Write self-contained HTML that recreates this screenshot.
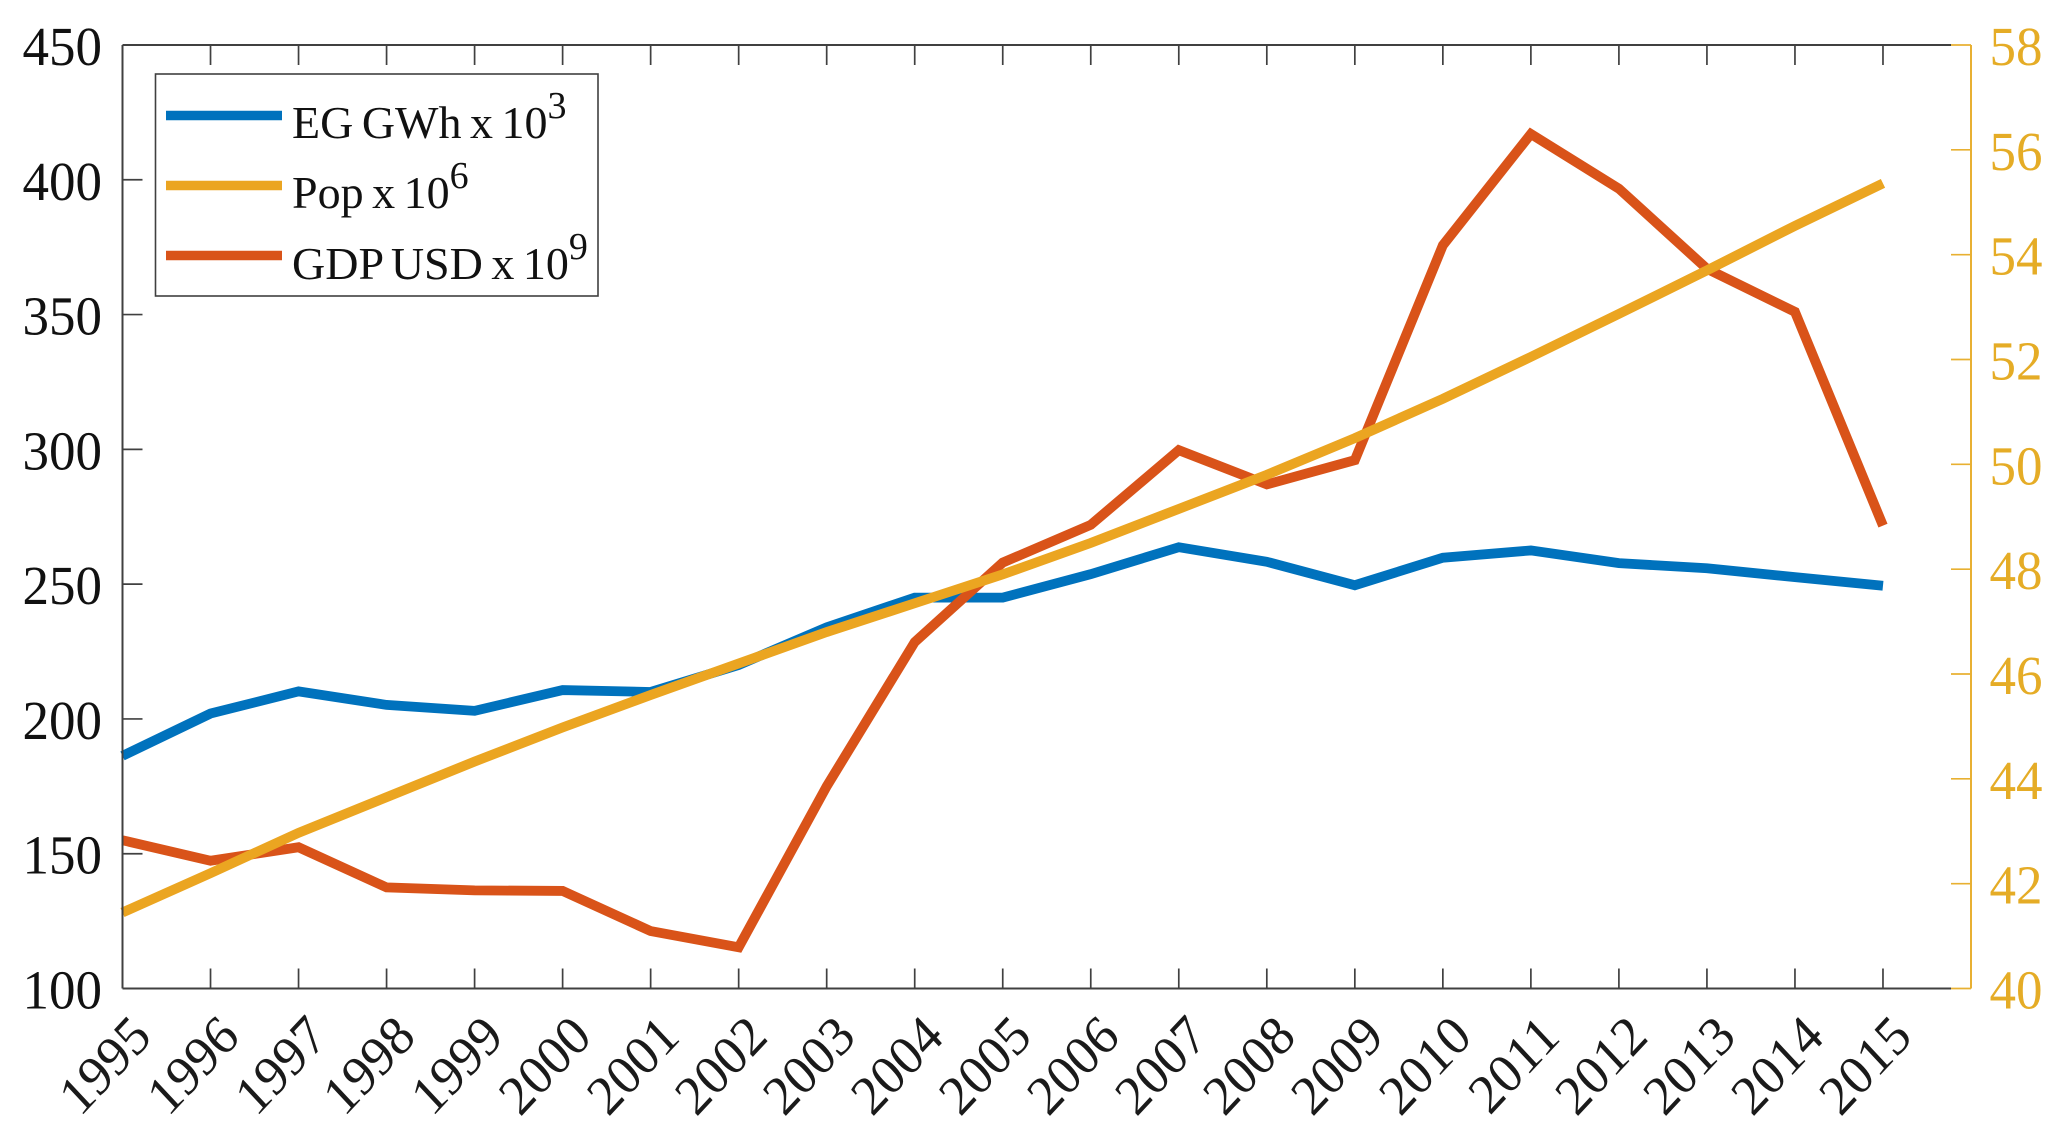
<!DOCTYPE html>
<html>
<head>
<meta charset="utf-8">
<style>
html,body{margin:0;padding:0;background:#fff;width:2067px;height:1140px;overflow:hidden}
svg{display:block;font-family:"Liberation Serif",serif}
</style>
</head>
<body>
<svg id="chart" xmlns="http://www.w3.org/2000/svg" width="2067" height="1140" viewBox="0 0 2067 1140">
<g id="marks"></g>
<g id="axes"></g>
<g>
<rect x="155.5" y="74" width="442.5" height="222" fill="#fff" stroke="#404040" stroke-width="1.6"/>
<line x1="166" x2="282" y1="115.5" y2="115.5" stroke="#0072BD" stroke-width="9.6"/>
<text x="292" y="138" font-size="46" word-spacing="-3" fill="#111">EG GWh x 10<tspan font-size="38" dy="-20">3</tspan></text>
<line x1="166" x2="282" y1="185.5" y2="185.5" stroke="#EBA521" stroke-width="9.6"/>
<text x="292" y="208" font-size="46" word-spacing="-3" fill="#111">Pop x 10<tspan font-size="38" dy="-20">6</tspan></text>
<line x1="166" x2="282" y1="255.5" y2="255.5" stroke="#D95319" stroke-width="9.6"/>
<text x="292" y="279" font-size="46" word-spacing="-3" fill="#111">GDP USD x 10<tspan font-size="38" dy="-20">9</tspan></text>
</g>
</svg>
<script>
const years = [1995,1996,1997,1998,1999,2000,2001,2002,2003,2004,2005,2006,2007,2008,2009,2010,2011,2012,2013,2014,2015];
const egValues = [186.3,202,210.2,205.2,203,210.7,210,220,234,245,245,253.7,263.7,258.3,249.6,259.8,262.5,257.8,255.9,252.6,249.4];
const popValues = [41.45,42.2,42.97,43.65,44.33,44.98,45.6,46.2,46.8,47.35,47.9,48.5,49.15,49.8,50.5,51.25,52.05,52.87,53.7,54.55,55.36];
const gdpValues = [155,147.4,152.4,137.5,136.4,136.2,121.3,115.3,175,228.5,258,272,299.7,287,296,375.7,417,396.7,367,351,271.7];
const leftTicks = [100,150,200,250,300,350,400,450];
const rightTicks = [40,42,44,46,48,50,52,54,56,58];

const NS = 'http://www.w3.org/2000/svg';
const plotLeft = 122.5, plotRight = 1971, plotTop = 45, plotBottom = 988.5;
const xMin = 1995, xMax = 2016;
const leftMin = 100, leftMax = 450, rightMin = 40, rightMax = 58;
const axisBlack = '#404040', axisYellow = '#E8B032';

function xScale(v){ return plotLeft + (v - xMin) / (xMax - xMin) * (plotRight - plotLeft); }
function yLeft(v){ return plotBottom - (v - leftMin) / (leftMax - leftMin) * (plotBottom - plotTop); }
function yRight(v){ return plotBottom - (v - rightMin) / (rightMax - rightMin) * (plotBottom - plotTop); }

function make(tag, attrs, parent){
  const el = document.createElementNS(NS, tag);
  for (const k in attrs) el.setAttribute(k, attrs[k]);
  parent.appendChild(el);
  return el;
}

const axes = document.getElementById('axes');
const marks = document.getElementById('marks');

function drawSeries(values, yFn, color, name){
  const d = values.map((v, i) => (i ? 'L' : 'M') + xScale(years[i]).toFixed(2) + ' ' + yFn(v).toFixed(2)).join(' ');
  const p = make('path', {d: d, fill: 'none', stroke: color, 'stroke-width': 9.8, 'stroke-linejoin': 'miter'}, marks);
  
  
}
drawSeries(egValues, yLeft, '#0072BD', 'eg-gwh-line');
drawSeries(gdpValues, yLeft, '#D95319', 'gdp-usd-line');
drawSeries(popValues, yRight, '#EBA521', 'population-line');

const spineLeft = make('line', {x1: plotLeft, x2: plotLeft, y1: plotTop, y2: plotBottom, stroke: axisBlack, 'stroke-width': 2}, axes);


const spineTop = make('line', {x1: plotLeft, x2: plotRight - 20, y1: plotTop, y2: plotTop, stroke: axisBlack, 'stroke-width': 2}, axes);


const spineBottom = make('line', {x1: plotLeft, x2: plotRight - 20, y1: plotBottom, y2: plotBottom, stroke: axisBlack, 'stroke-width': 2}, axes);


const spineRight = make('line', {x1: plotRight, x2: plotRight, y1: plotTop, y2: plotBottom, stroke: axisYellow, 'stroke-width': 2}, axes);



years.forEach(function(yr){
  const x = xScale(yr);
  if (yr !== xMin) {
    const t1 = make('line', {x1: x, x2: x, y1: plotBottom, y2: plotBottom - 20, stroke: axisBlack, 'stroke-width': 1.7}, axes);
    
    
    const t2 = make('line', {x1: x, x2: x, y1: plotTop, y2: plotTop + 20, stroke: axisBlack, 'stroke-width': 1.7}, axes);
    
    
  }
  const lx = x + 31, ly = 1039;
  const label = make('text', {x: 0, y: 0, 'font-size': 53, fill: '#1a1a1a', 'text-anchor': 'end', transform: 'translate(' + lx + ' ' + ly + ') scale(0.98 1.05) rotate(-45)'}, axes);
  label.textContent = yr;
  
  
});

leftTicks.forEach(function(v){
  const y = yLeft(v);
  const t = make('line', {x1: plotLeft, x2: plotLeft + 20, y1: y, y2: y, stroke: axisBlack, 'stroke-width': 1.7}, axes);
  
  
  const label = make('text', {x: 0, y: 0, 'font-size': 53, fill: '#111', 'text-anchor': 'end', transform: 'translate(102 ' + (y + 20) + ') scale(1 1.04)'}, axes);
  label.textContent = v;
  
  
});

rightTicks.forEach(function(v){
  const y = yRight(v);
  const t = make('line', {x1: plotRight - 20, x2: plotRight, y1: y, y2: y, stroke: axisYellow, 'stroke-width': 1.7}, axes);
  
  
  const label = make('text', {x: 0, y: 0, 'font-size': 53, fill: '#E5AC26', transform: 'translate(1989.5 ' + (y + 20) + ') scale(1 1.04)'}, axes);
  label.textContent = v;
  
  
});
</script>
</body>
</html>
